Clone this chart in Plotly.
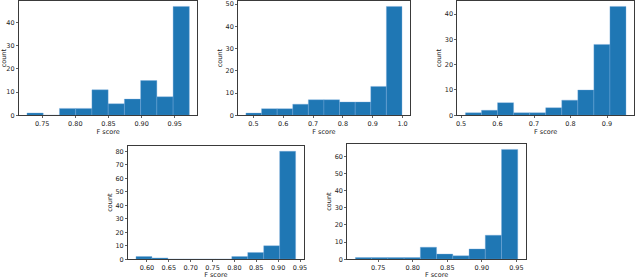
import plotly.graph_objects as go

# ---- data ----
# each panel: histogram with 10 equal bins between lo and hi
p1_lo, p1_hi = 0.727, 0.972
p1_counts = [1, 0, 3, 3, 11, 5, 7, 15, 8, 47]

p2_lo, p2_hi = 0.475, 0.998
p2_counts = [1, 3, 3, 5, 7, 7, 6, 6, 13, 49]

p3_lo, p3_hi = 0.512, 0.952
p3_counts = [1, 2, 5, 1, 1, 3, 6, 10, 28, 43]

p4_lo, p4_hi = 0.575, 0.940
p4_counts = [2, 1, 0, 0, 0, 0, 2, 5, 10, 80]

p5_lo, p5_hi = 0.717, 0.952
p5_counts = [1, 1, 1, 1, 7, 3, 2, 6, 14, 64]

p1_xticks = [0.75, 0.80, 0.85, 0.90, 0.95]
p2_xticks = [0.5, 0.6, 0.7, 0.8, 0.9, 1.0]
p3_xticks = [0.5, 0.6, 0.7, 0.8, 0.9]
p4_xticks = [0.60, 0.65, 0.70, 0.75, 0.80, 0.85, 0.90, 0.95]
p5_xticks = [0.75, 0.80, 0.85, 0.90, 0.95]

p1_yticks = [0, 10, 20, 30, 40]
p2_yticks = [0, 10, 20, 30, 40, 50]
p3_yticks = [0, 10, 20, 30, 40]
p4_yticks = [0, 10, 20, 30, 40, 50, 60, 70, 80]
p5_yticks = [0, 10, 20, 30, 40, 50, 60]

panels = [
    (p1_lo, p1_hi, p1_counts, p1_xticks, p1_yticks, ".2f"),
    (p2_lo, p2_hi, p2_counts, p2_xticks, p2_yticks, ".1f"),
    (p3_lo, p3_hi, p3_counts, p3_xticks, p3_yticks, ".1f"),
    (p4_lo, p4_hi, p4_counts, p4_xticks, p4_yticks, ".2f"),
    (p5_lo, p5_hi, p5_counts, p5_xticks, p5_yticks, ".2f"),
]

# ---- layout geometry (pixels in a 640x279 canvas) ----
W, H = 640, 279
boxes = [  # x0, x1, ytop, ybottom
    (18, 198, 1, 117),
    (239, 412, 1, 117),
    (460, 638, 1, 117),
    (128, 305, 148, 263),
    (349, 529, 146, 263),
]

BLUE = "#1f77b4"
FRAME = "#3a3a3a"
FONT = dict(family="DejaVu Sans", size=6.5, color="#222")

fig = go.Figure()
layout = dict(
    width=W, height=H,
    margin=dict(l=0, r=0, t=0, b=0),
    paper_bgcolor="white", plot_bgcolor="white",
    showlegend=False, font=FONT,
    bargap=0,
)

for i, ((lo, hi, counts, xt, yt, fmt), (x0, x1, yt0, yb)) in enumerate(zip(panels, boxes)):
    n = len(counts)
    w = (hi - lo) / n
    centers = [lo + w * (k + 0.5) for k in range(n)]
    xa = "x" if i == 0 else f"x{i+1}"
    ya = "y" if i == 0 else f"y{i+1}"
    fig.add_trace(go.Bar(
        x=centers, y=counts, width=[w] * n,
        marker=dict(color=BLUE, line=dict(color="rgba(120,170,220,0.6)", width=0.6)),
        xaxis=xa, yaxis=ya, hoverinfo="skip",
    ))
    pad = 0.05 * (hi - lo)
    ymax = max(counts) * 1.05
    key = "" if i == 0 else str(i + 1)
    layout["xaxis" + key] = dict(
        domain=[x0 / W, x1 / W], anchor=ya,
        range=[lo - pad, hi + pad],
        tickvals=xt, ticktext=[format(v, fmt) for v in xt],
        showline=True, mirror=True, linecolor=FRAME, linewidth=1,
        ticks="outside", ticklen=2, tickwidth=0.8, tickcolor=FRAME,
        showgrid=False, zeroline=False,
        tickfont=FONT,
        title=dict(text="F score", font=FONT, standoff=1),
    )
    layout["yaxis" + key] = dict(
        domain=[1 - yb / H, 1 - yt0 / H], anchor=xa,
        range=[0, ymax],
        tickvals=yt,
        showline=True, mirror=True, linecolor=FRAME, linewidth=1,
        ticks="outside", ticklen=2, tickwidth=0.8, tickcolor=FRAME,
        showgrid=False, zeroline=False,
        tickfont=FONT,
        title=dict(text="count", font=FONT, standoff=2),
    )

fig.update_layout(**layout)
fig.write_html(
    "out.html",
    config={"displayModeBar": False, "staticPlot": True},
    post_script="document.body.style.margin='0';document.body.style.overflow='hidden';",
)
